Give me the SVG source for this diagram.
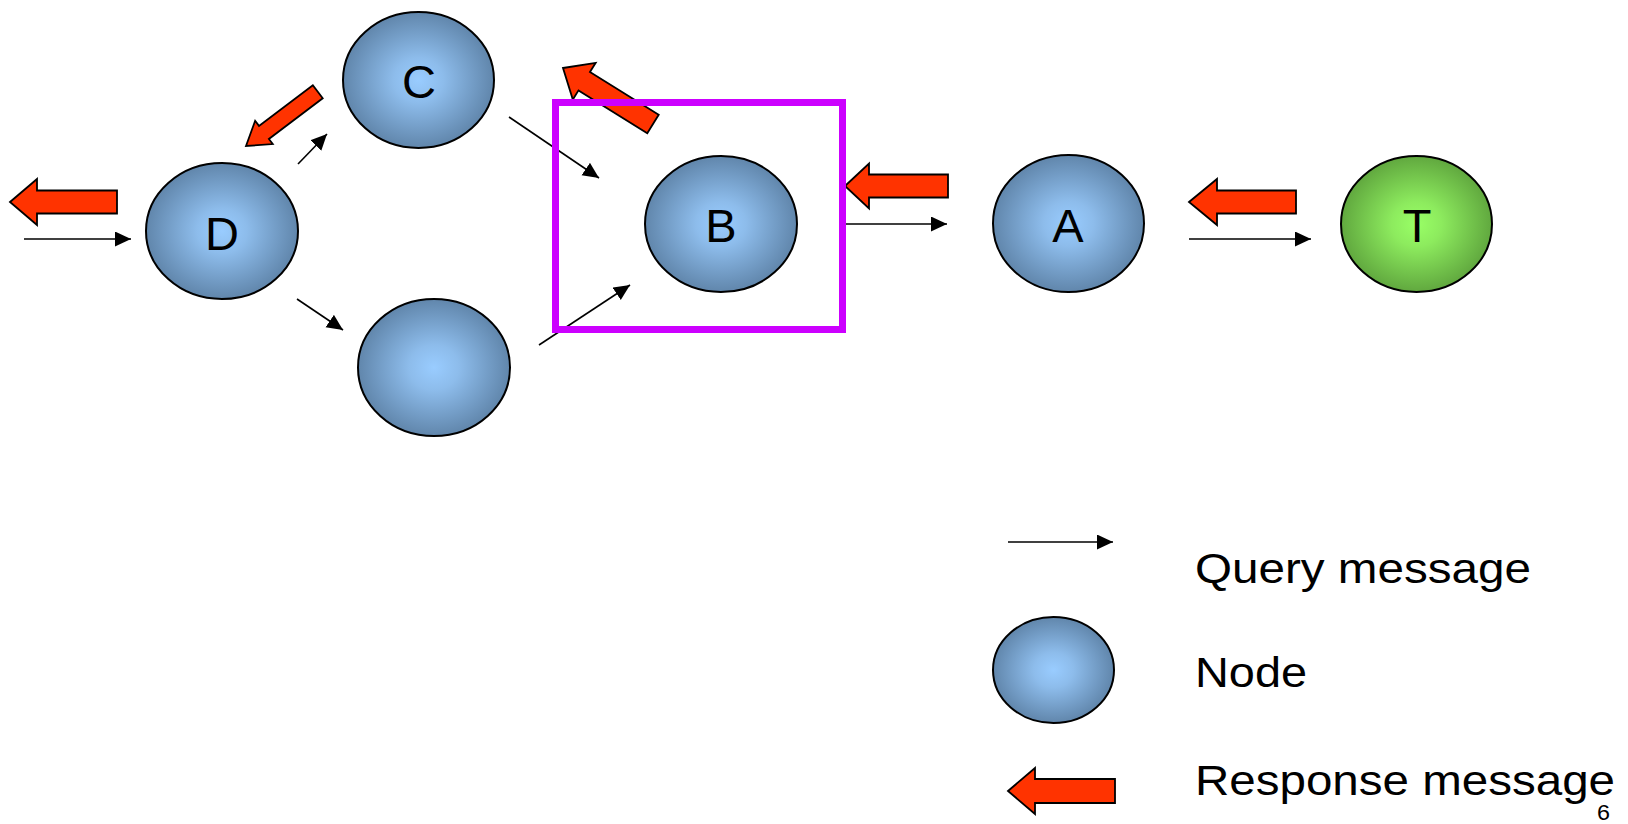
<svg xmlns="http://www.w3.org/2000/svg" width="1628" height="824" viewBox="0 0 1628 824">
  <defs>
    <radialGradient id="blueFill" cx="50%" cy="50%" r="55%">
      <stop offset="0" stop-color="#99CCFF"/>
      <stop offset="0.3" stop-color="#8DBCEB"/>
      <stop offset="1" stop-color="#5A7EA2"/>
    </radialGradient>
    <radialGradient id="greenFill" cx="50%" cy="50%" r="55%">
      <stop offset="0" stop-color="#99FF66"/>
      <stop offset="0.3" stop-color="#8DEB5E"/>
      <stop offset="1" stop-color="#5A9E3A"/>
    </radialGradient>
    <marker id="head" markerUnits="userSpaceOnUse" markerWidth="18" markerHeight="16" refX="16" refY="7.5" orient="auto">
      <path d="M0,0 L16,7.5 L0,15 Z" fill="#000"/>
    </marker>
  </defs>
  <style>
    .node { stroke: #000; stroke-width: 2; }
    .blue { fill: url(#blueFill); }
    .green { fill: url(#greenFill); }
    .label { font-family: "Liberation Sans", Arial, sans-serif; font-size: 47px; fill: #000; text-anchor: middle; }
    .legend { font-family: "Liberation Sans", Arial, sans-serif; font-size: 43px; fill: #000; }
    .query { stroke: #000; stroke-width: 1.6; fill: none; marker-end: url(#head); }
    .response { fill: #FF3300; stroke: #000; stroke-width: 1.8; stroke-linejoin: miter; }
    .highlight { fill: none; stroke: #CC00FF; stroke-width: 7; }
  </style>

  <rect width="1628" height="824" fill="#FFFFFF"/>

  <!-- peers -->
  <g id="node-D">
    <ellipse class="node blue" cx="222" cy="231" rx="76" ry="68"/>
    <text class="label" x="222" y="250">D</text>
  </g>
  <g id="node-C">
    <ellipse class="node blue" cx="418.5" cy="80" rx="75.5" ry="68"/>
    <text class="label" x="419" y="98">C</text>
  </g>
  <g id="node-E">
    <ellipse class="node blue" cx="434" cy="367.5" rx="76" ry="68.5"/>
  </g>
  <g id="node-B">
    <ellipse class="node blue" cx="721" cy="224" rx="76" ry="68"/>
    <text class="label" x="721" y="242">B</text>
  </g>
  <g id="node-A">
    <ellipse class="node blue" cx="1068.5" cy="223.5" rx="75.5" ry="68.5"/>
    <text class="label" x="1068" y="242">A</text>
  </g>
  <g id="node-T">
    <ellipse class="node green" cx="1416.5" cy="224" rx="75.5" ry="68"/>
    <text class="label" x="1417" y="242">T</text>
  </g>

  <!-- query messages -->
  <g id="connectors">
    <line class="query" x1="24" y1="239" x2="131" y2="239"/>
    <line class="query" x1="298" y1="164" x2="327" y2="134"/>
    <line class="query" x1="297" y1="299" x2="343" y2="330"/>
    <line class="query" x1="509" y1="117" x2="599" y2="178"/>
    <line class="query" x1="539" y1="345" x2="630" y2="285"/>
    <line class="query" x1="846" y1="224" x2="947" y2="224"/>
    <line class="query" x1="1189" y1="239" x2="1311" y2="239"/>
  </g>

  <!-- response messages (block arrows, tip at local origin pointing -x) -->
  <g id="responses">
    <polygon class="response" transform="translate(10,202)" points="0,0 27,-23 27,-11.5 107,-11.5 107,11.5 27,11.5 27,23"/>
    <polygon class="response" transform="translate(246,146) rotate(-37.1)" points="0,0 22.5,-14.6 22.5,-8.2 90,-8.2 90,8.2 22.5,8.2 22.5,14.6"/>
    <polygon class="response" transform="translate(563,68) rotate(31.9)" points="0,0 25,-21.6 25,-10.8 106,-10.8 106,10.8 25,10.8 25,21.6"/>
    <polygon class="response" transform="translate(845,186)" points="0,0 24,-22.5 24,-11.5 103,-11.5 103,11.5 24,11.5 24,22.5"/>
    <polygon class="response" transform="translate(1189,202)" points="0,0 28,-23 28,-11.5 107,-11.5 107,11.5 28,11.5 28,23"/>
  </g>

  <!-- highlight around B -->
  <rect id="highlight-B" class="highlight" x="555.5" y="102.5" width="287" height="227"/>

  <!-- legend -->
  <g id="legend">
    <line class="query" x1="1008" y1="542" x2="1113" y2="542"/>
    <text class="legend" x="1195" y="583" textLength="336" lengthAdjust="spacingAndGlyphs">Query message</text>
    <ellipse class="node blue" cx="1053.5" cy="670" rx="60.5" ry="53"/>
    <text class="legend" x="1195" y="687" textLength="112" lengthAdjust="spacingAndGlyphs">Node</text>
    <polygon class="response" transform="translate(1008,791)" points="0,0 27,-23 27,-12 107,-12 107,12 27,12 27,23"/>
    <text class="legend" x="1195" y="795" textLength="420" lengthAdjust="spacingAndGlyphs">Response message</text>
  </g>

  <text x="1597" y="820" font-family="Liberation Sans, Arial, sans-serif" font-size="22" fill="#000" textLength="13" lengthAdjust="spacingAndGlyphs">6</text>
</svg>
